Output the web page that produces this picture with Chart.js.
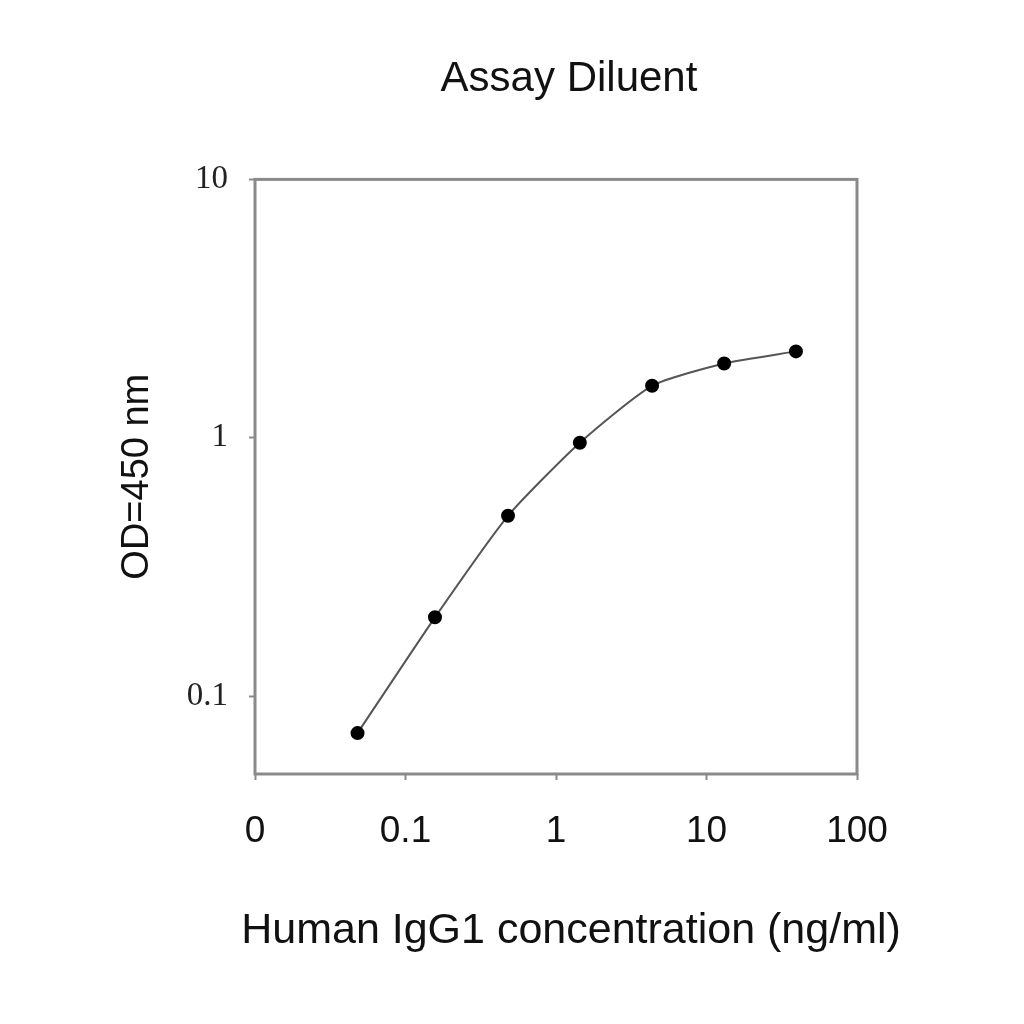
<!DOCTYPE html>
<html>
<head>
<meta charset="utf-8">
<script src="https://cdn.jsdelivr.net/npm/chart.js@4/dist/chart.umd.min.js"></script>
<style>
html,body{margin:0;padding:0;background:#fff;}
#wrap{width:1024px;height:1024px;}
</style>
</head>
<body>
<div id="wrap"><canvas id="c" width="1024" height="1024"></canvas></div>
<script>
const chartTitle = 'Assay Diluent';
const xTitle = 'Human IgG1 concentration (ng/ml)';
const yTitle = 'OD=450 nm';
const concentrations = [0.048, 0.157, 0.48, 1.44, 4.35, 13.1, 39.3];
const odValues = [0.072, 0.202, 0.499, 0.957, 1.59, 1.94, 2.16];
const xTickValues = [0.01, 0.1, 1, 10, 100];
const xTickLabels = ['0', '0.1', '1', '10', '100'];
const yTickValues = [0.1, 1, 10];
const yTickLabels = ['0.1', '1', '10'];

const frame = {
  id: 'frame',
  beforeDatasetsDraw(chart) {
    const {ctx, chartArea: a} = chart;
    ctx.save();
    ctx.strokeStyle = '#8a8a8a';
    ctx.lineWidth = 3;
    ctx.strokeRect(a.left, a.top, a.right - a.left, a.bottom - a.top);
    ctx.restore();
  }
};

const xAxisTitle = {
  id: 'xAxisTitle',
  afterDraw(chart) {
    const {ctx} = chart;
    ctx.save();
    ctx.fillStyle = '#111';
    ctx.font = '43px "Liberation Sans"';
    ctx.textAlign = 'center';
    ctx.textBaseline = 'middle';
    ctx.fillText(xTitle, 571, 931);
    ctx.restore();
  }
};

new Chart(document.getElementById('c'), {
  type: 'line',
  data: {
    datasets: [{
      data: concentrations.map((x, i) => ({x: x, y: odValues[i]})),
      borderColor: '#555',
      borderWidth: 2,
      backgroundColor: '#000',
      pointBackgroundColor: '#000',
      pointBorderColor: '#000',
      pointRadius: 6,
      tension: 0.2,
      fill: false
    }]
  },
  options: {
    responsive: false,
    animation: false,
    devicePixelRatio: 1,
    layout: {padding: {left: 114, right: 0, top: 0, bottom: 0}},
    plugins: {
      legend: {display: false},
      tooltip: {enabled: false},
      title: {
        display: true,
        text: chartTitle,
        color: '#111',
        font: {family: 'Liberation Sans', size: 42, weight: 'normal'},
        padding: {top: 54, bottom: 75}
      }
    },
    scales: {
      x: {
        type: 'logarithmic',
        position: 'bottom',
        min: 0.01,
        max: 100,
        afterBuildTicks(s) { s.ticks = xTickValues.map(v => ({value: v})); },
        afterFit(s) { s.height = 250; },
        ticks: {
          callback: (v) => xTickLabels[xTickValues.indexOf(v)] ?? '',
          color: '#111',
          font: {family: 'Liberation Sans', size: 37},
          padding: 30,
          maxRotation: 0,
          autoSkip: false
        },
        grid: {display: true, drawOnChartArea: false, drawTicks: true, tickLength: 6, tickColor: '#8a8a8a', tickWidth: 2},
        border: {display: false},
        title: {display: false}
      },
      y: {
        type: 'logarithmic',
        position: 'left',
        min: 0.05,
        max: 10,
        afterBuildTicks(s) { s.ticks = yTickValues.map(v => ({value: v})); },
        afterFit(s) { s.width = 141; },
        ticks: {
          callback: (v) => yTickLabels[yTickValues.indexOf(v)] ?? '',
          color: '#222',
          font: {family: 'Liberation Serif', size: 33},
          padding: 21,
          autoSkip: false
        },
        grid: {display: true, drawOnChartArea: false, drawTicks: true, tickLength: 6, tickColor: '#8a8a8a', tickWidth: 2},
        border: {display: false},
        title: {
          display: true,
          text: yTitle,
          color: '#111',
          font: {family: 'Liberation Sans', size: 38},
          padding: {top: 1, bottom: 0}
        }
      },
      y2: {
        type: 'linear',
        position: 'right',
        display: true,
        afterFit(s) { s.width = 167; },
        ticks: {display: false},
        grid: {display: false},
        border: {display: false}
      }
    }
  },
  plugins: [frame, xAxisTitle]
});
</script>
</body>
</html>
